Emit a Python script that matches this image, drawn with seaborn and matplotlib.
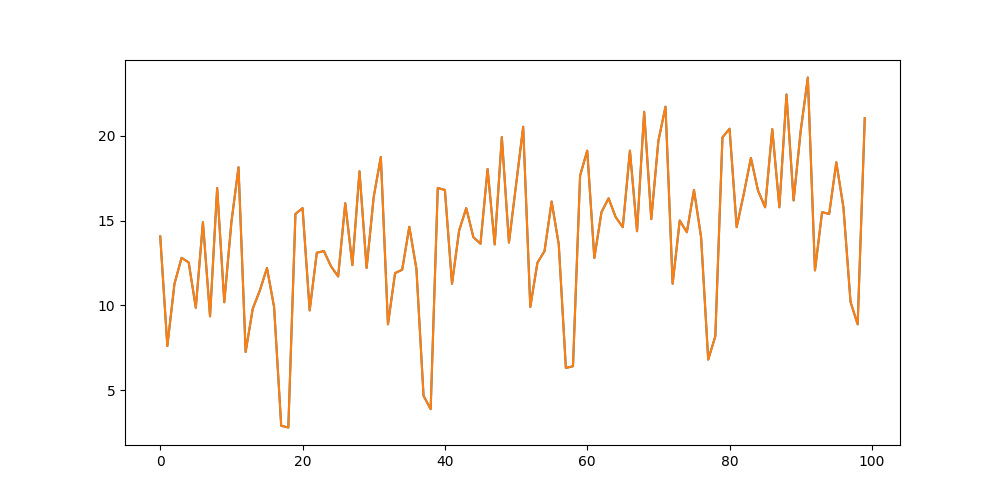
import matplotlib
matplotlib.use("Agg")
import matplotlib.pyplot as plt
import seaborn as sns
import numpy as np

x_index = list(range(100))
values = [
    14.06, 7.6, 11.27, 12.8, 12.53, 9.86, 14.9, 9.35, 16.92, 10.18,
    14.9, 18.14, 7.25, 9.8, 10.88, 12.2, 9.9, 2.9, 2.8, 15.39,
    15.73, 9.7, 13.1, 13.2, 12.3, 11.7, 16.02, 12.37, 17.9, 12.2,
    16.4, 18.75, 8.88, 11.9, 12.1, 14.63, 12.15, 4.67, 3.88, 16.92,
    16.8, 11.27, 14.41, 15.73, 14.02, 13.63, 18.04, 13.59, 19.92, 13.7,
    17.1, 20.53, 9.9, 12.51, 13.2, 16.12, 13.59, 6.31, 6.41, 17.65,
    19.12, 12.79, 15.49, 16.31, 15.2, 14.61, 19.12, 14.37, 21.41, 15.08,
    19.7, 21.71, 11.27, 15.0, 14.31, 16.8, 14.02, 6.8, 8.18, 19.9,
    20.41, 14.61, 16.57, 18.69, 16.76, 15.78, 20.39, 15.78, 22.43, 16.18,
    20.3, 23.43, 12.06, 15.49, 15.39, 18.43, 15.78, 10.2, 8.88, 21.04,
]

fig, ax = plt.subplots(figsize=(10, 5), dpi=100)
sns.lineplot(x=x_index, y=values, ax=ax, color="#1f77b4")
sns.lineplot(x=x_index, y=values, ax=ax, color="#ff7f0e")
fig.savefig("out.png", dpi=100)
